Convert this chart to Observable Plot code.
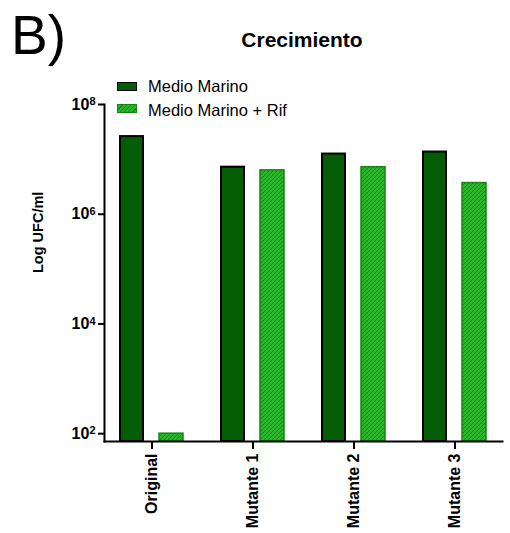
<!DOCTYPE html>
<html>
<head>
<meta charset="utf-8">
<script src="https://cdn.jsdelivr.net/npm/d3@7"></script>
<script src="https://cdn.jsdelivr.net/npm/@observablehq/plot@0.6"></script>
<style>
  html, body { margin: 0; padding: 0; background: #fff; }
  #wrap { position: relative; width: 510px; height: 533px; font-family: "Liberation Sans", Arial, sans-serif; color: #000; }
  .ov { position: absolute; white-space: nowrap; line-height: 1; }
  .sw { position: absolute; box-sizing: border-box; }
</style>
</head>
<body>
<div id="wrap"></div>
<script>
// ---- data ----
const categories = ["Original", "Mutante 1", "Mutante 2", "Mutante 3"];
const seriesNames = ["Medio Marino", "Medio Marino + Rif"];
const medioMarino = [2.6e7, 7.2e6, 1.25e7, 1.36e7];
const medioMarinoRif = [100, 6.3e6, 7.2e6, 3.7e6];
const yTicks = [1e2, 1e4, 1e6, 1e8];
const yTickLabels = ["10²", "10⁴", "10⁶", "10⁸"];
const yTickBase = "10";
const yTickExponents = ["2", "4", "6", "8"];
const yDomain = [72, 1e8];
const title = "Crecimiento";
const panelLabel = "B)";
const yLabel = "Log UFC/ml";

// ---- styles ----
const darkFill = "#045c04";
const lightFill = "#2cb42c";
const hatchStroke = "#148c14";
const lightStroke = "#168416";

const dark = categories.map((c, i) => ({cat: c, v: medioMarino[i]}));
const light = categories.map((c, i) => ({cat: c, v: medioMarinoRif[i]}));

const chart = Plot.plot({
  width: 510,
  height: 533,
  marginTop: 104,
  marginBottom: 92,
  marginLeft: 104,
  marginRight: 8,
  style: {fontFamily: "Liberation Sans, Arial, sans-serif", color: "#000", background: "#fff"},
  x: {type: "band", domain: categories, paddingInner: 0.373, paddingOuter: 0.1375},
  y: {type: "log", domain: yDomain},
  marks: [
    Plot.barY(dark, {x: "cat", y1: yDomain[0], y2: "v", fill: darkFill, stroke: "#000", strokeWidth: 2, insetRight: 40}),
    Plot.barY(light, {x: "cat", y1: yDomain[0], y2: "v", fill: "url(#hatch)", stroke: lightStroke, strokeWidth: 1.5, insetLeft: 39}),
    Plot.frame({anchor: "left", stroke: "#000", strokeWidth: 2}),
    Plot.frame({anchor: "bottom", stroke: "#000", strokeWidth: 2}),
    Plot.axisY({ticks: yTicks, tickFormat: d => yTickLabels[yTicks.indexOf(d)], tickSize: 6, tickPadding: 3,
                fontSize: 16, fontWeight: "bold", strokeWidth: 2, label: null}),
    Plot.axisX({tickSize: 8, tickPadding: 4, tickRotate: -90, fontSize: 16, fontWeight: "bold", strokeWidth: 2, label: null}),
    Plot.text([yLabel], {frameAnchor: "left", rotate: -90, dx: -66, fontSize: 14.5, fontWeight: "bold", fill: "#000"})
  ]
});

d3.select(chart).insert("defs", ":first-child").html(
  `<pattern id="hatch" patternUnits="userSpaceOnUse" width="4" height="4">
     <rect width="4" height="4" fill="${lightFill}"/>
     <path d="M-1,1 l2,-2 M0,4 l4,-4 M3,5 l2,-2" stroke="${hatchStroke}" stroke-width="1"/>
   </pattern>`);

// render the y tick labels as 10 with a raised exponent
d3.select(chart).selectAll("text").each(function () {
  const t = this.textContent;
  const k = yTickLabels.indexOf(t);
  if (k < 0) return;
  const sel = d3.select(this);
  sel.text(null);
  sel.append("tspan").text(yTickBase);
  sel.append("tspan").attr("dy", "-0.4em").attr("font-size", 11).text(yTickExponents[k]);
});

const wrap = document.getElementById("wrap");
wrap.appendChild(chart);
chart.style.position = "absolute";
chart.style.left = "0";
chart.style.top = "0";

function addText(txt, css) {
  const d = document.createElement("div");
  d.className = "ov";
  d.textContent = txt;
  Object.assign(d.style, css);
  wrap.appendChild(d);
  return d;
}
addText(panelLabel, {left: "11px", top: "8px", fontSize: "55px", fontWeight: "normal"});
addText(title, {left: "302px", top: "29px", fontSize: "21px", fontWeight: "bold", transform: "translateX(-50%)"});

// legend
const sw1 = document.createElement("div");
sw1.className = "sw";
Object.assign(sw1.style, {left: "117px", top: "82px", width: "20px", height: "9px", background: darkFill, border: "1.5px solid #000"});
wrap.appendChild(sw1);
const sw2 = document.createElement("div");
sw2.className = "sw";
Object.assign(sw2.style, {left: "117px", top: "104px", width: "20px", height: "9px",
  background: `repeating-linear-gradient(-45deg, ${lightFill} 0px, ${lightFill} 2px, ${hatchStroke} 2px, ${hatchStroke} 3px)`,
  border: `1.5px solid ${lightStroke}`});
wrap.appendChild(sw2);
addText(seriesNames[0], {left: "148px", top: "78px", fontSize: "16.5px"});
addText(seriesNames[1], {left: "148px", top: "102px", fontSize: "16.5px"});
</script>
</body>
</html>
